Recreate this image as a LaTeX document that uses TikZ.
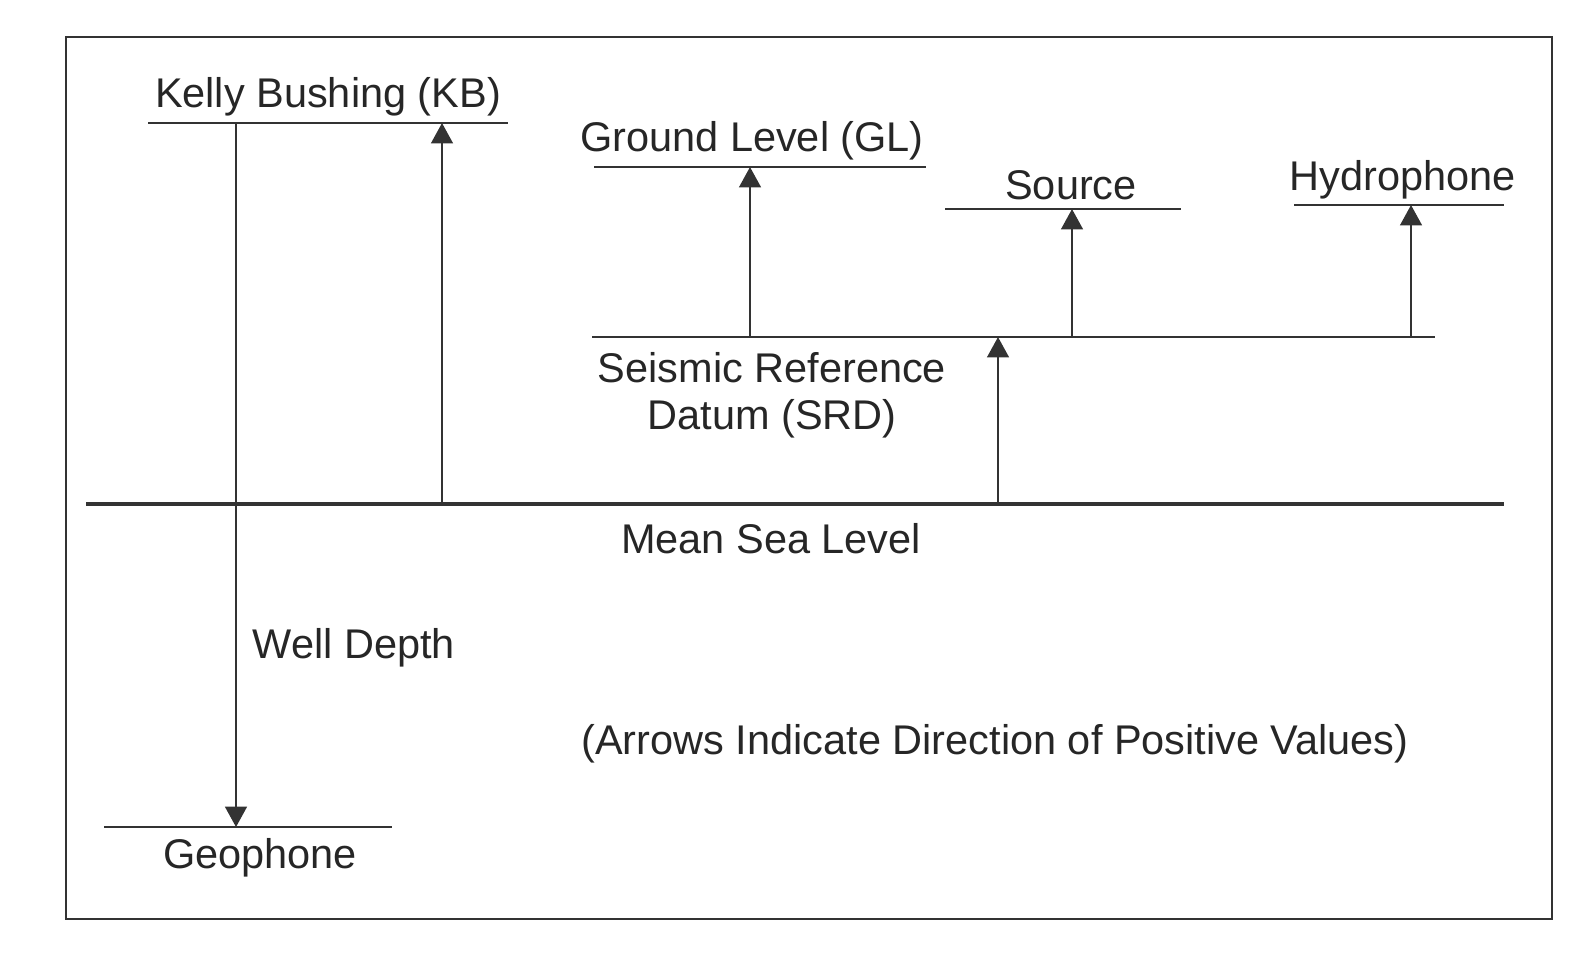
\documentclass[tikz,border=0pt]{standalone}
\usepackage{fontspec}
\setmainfont{Liberation Sans}
\usetikzlibrary{arrows.meta,positioning}
\definecolor{ink}{gray}{0.2}

\begin{document}
\begin{tikzpicture}[x=0.01cm, y=-0.01cm,
    every node/.style={font=\fontsize{11.8}{14}\selectfont, text=black!85, inner sep=0pt},
    level/.style={ink, line width=0.6pt},
    upto/.style={ink, line width=0.6pt, -{Triangle[width=6.2pt,length=5.8pt]}}]
  \useasboundingbox (0,0) rectangle (1592,953);
  % frame
  \draw[ink, line width=0.8pt] (66,37) rectangle (1552,919);

  % Define levels
  \coordinate (KBl) at (148,123);   \coordinate (KBr) at (508,123);
  \coordinate (GLl) at (594,167);   \coordinate (GLr) at (926,167);
  \coordinate (SRl) at (592,337);   \coordinate (SRr) at (1435,337);
  \coordinate (SOl) at (945,209);   \coordinate (SOr) at (1181,209);
  \coordinate (HYl) at (1294,205);  \coordinate (HYr) at (1504,205);
  \coordinate (MSl) at (86,504);    \coordinate (MSr) at (1504,504);
  \coordinate (GEl) at (104,827);   \coordinate (GEr) at (392,827);

  % Draw levels
  \draw[level] (KBl) -- (KBr);
  \draw[level] (GLl) -- (GLr);
  \draw[level] (SRl) -- (SRr);
  \draw[level] (SOl) -- (SOr);
  \draw[level] (HYl) -- (HYr);
  \draw[level] (GEl) -- (GEr);
  \draw[ink, line width=1.2pt] (MSl) -- (MSr);

  % Arrow feet and tips
  \coordinate (wTop) at (236,123);  \coordinate (wBot) at (236,827);
  \coordinate (kbA) at (442,504);   \coordinate (kbB) at (442,123);
  \coordinate (glA) at (750,337);   \coordinate (glB) at (750,167);
  \coordinate (srA) at (998,504);   \coordinate (srB) at (998,337);
  \coordinate (soA) at (1072,337);  \coordinate (soB) at (1072,209);
  \coordinate (hyA) at (1411,337);  \coordinate (hyB) at (1411,205);

  \draw[upto] (wTop) -- (wBot);
  \draw[upto] (kbA) -- (kbB);
  \draw[upto] (glA) -- (glB);
  \draw[upto] (srA) -- (srB);
  \draw[upto] (soA) -- (soB);
  \draw[upto] (hyA) -- (hyB);

  % Label levels
  \node (kb) at (328,97) {Kelly Bushing (KB)};
  \node (gl) at (752,141) {Ground Level (GL)};
  \node (so) at (1071,185) {Source};
  \node (hy) at (1403,180) {Hydrophone};
  \node[align=center] (srd) at (772,395) {Seismic Reference\\[-0.6pt]Datum (SRD)};
  \node (msl) at (771,539) {Mean Sea Level};
  \node (ge) at (260,858) {Geophone};
  \node[anchor=west] (wd) at (252,648) {Well Depth};
  \node (note) at (995,744) {(Arrows Indicate Direction of Positive Values)};
\end{tikzpicture}
\end{document}
